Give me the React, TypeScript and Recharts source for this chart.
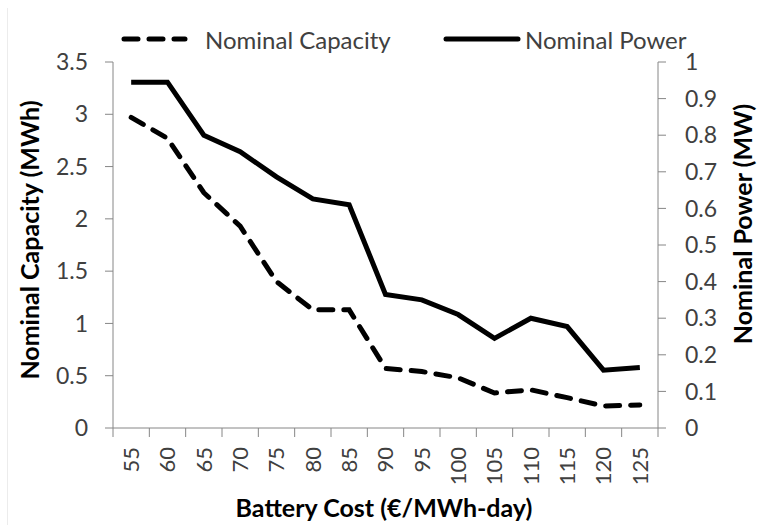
import React from 'react';
import { LineChart, Line, XAxis, YAxis } from 'recharts';

const costs = [55, 60, 65, 70, 75, 80, 85, 90, 95, 100, 105, 110, 115, 120, 125];
const capacityMWh = [2.97, 2.77, 2.25, 1.93, 1.4, 1.13, 1.13, 0.57, 0.54, 0.48, 0.335, 0.365, 0.29, 0.21, 0.22];
const powerMW = [0.945, 0.945, 0.8, 0.755, 0.686, 0.626, 0.61, 0.365, 0.35, 0.31, 0.245, 0.3, 0.277, 0.158, 0.165];
const capacityTicks = [0, 0.5, 1, 1.5, 2, 2.5, 3, 3.5];
const powerTicks = [0, 0.1, 0.2, 0.3, 0.4, 0.5, 0.6, 0.7, 0.8, 0.9, 1];

const data = costs.map((c, i) => ({ cost: c, capacity: capacityMWh[i], power: powerMW[i] }));

const W = 761;
const H = 525;
const LEFT = 113;
const RIGHT = 658;
const TOP = 62;
const BOTTOM = 428;
const band = (RIGHT - LEFT) / costs.length;

const FONT = 'Lato, "Open Sans", sans-serif';
const AXIS = '#868686';
const TXT = '#404040';
const DASH = '14 11';

const CostTick = (props: any) => {
  const { x, payload, index } = props;
  const top = BOTTOM + 19;
  return (
    <g>
      <line x1={x - band / 2} y1={BOTTOM} x2={x - band / 2} y2={BOTTOM + 9} stroke={AXIS} />
      {index === costs.length - 1 && (
        <line x1={x + band / 2} y1={BOTTOM} x2={x + band / 2} y2={BOTTOM + 9} stroke={AXIS} />
      )}
      <text
        x={x}
        y={top}
        dy="0.35em"
        textAnchor="end"
        transform={`rotate(-90, ${x}, ${top})`}
        fill={TXT}
        fontSize={22}
        fontFamily={FONT}
      >
        {payload.value}
      </text>
    </g>
  );
};

// axis titles sit where the original put them, not centred on the plot
const Title = ({ cx, cy, text, rotate }: { cx: number; cy: number; text: string; rotate?: boolean }) => (
  <text
    x={cx}
    y={cy}
    textAnchor="middle"
    dominantBaseline="central"
    transform={rotate ? `rotate(-90, ${cx}, ${cy})` : undefined}
    fontSize={25}
    fontWeight={700}
    fill="#000"
    fontFamily={FONT}
  >
    {text}
  </text>
);

function Overlay() {
  return (
    <svg width={W} height={H} style={{ position: 'absolute', left: 0, top: 0, pointerEvents: 'none' }}>
      <line x1={7.5} y1={8} x2={7.5} y2={H} stroke="#ececec" />
      <line x1={124} y1={39} x2={185} y2={39} stroke="#000" strokeWidth={5} strokeDasharray={DASH} strokeLinecap="round" />
      <text x={205} y={39} dominantBaseline="central" fontSize={24} fontFamily={FONT} fill={TXT}>
        Nominal Capacity
      </text>
      <line x1={446} y1={39} x2={518} y2={39} stroke="#000" strokeWidth={5} strokeLinecap="round" />
      <text x={525} y={39} dominantBaseline="central" fontSize={24} fontFamily={FONT} fill={TXT}>
        Nominal Power
      </text>
    </svg>
  );
}

export default function App() {
  return (
    <div style={{ position: 'absolute', left: 0, top: 0, width: W, height: H, background: '#fff' }}>
      <LineChart width={W} height={H} data={data} margin={{ top: TOP, right: 0, bottom: 0, left: 0 }}>
        <XAxis
          dataKey="cost"
          type="category"
          scale="band"
          height={H - BOTTOM}
          axisLine={{ stroke: AXIS }}
          tickLine={false}
          interval={0}
          tick={<CostTick />}
          label={<Title cx={384} cy={507} text="Battery Cost (€/MWh-day)" />}
        />
        <YAxis
          yAxisId="cap"
          orientation="left"
          width={LEFT}
          domain={[0, 3.5]}
          ticks={capacityTicks}
          interval={0}
          tickSize={8}
          tickMargin={17}
          axisLine={{ stroke: AXIS }}
          tickLine={{ stroke: AXIS }}
          tick={{ fill: TXT, fontSize: 23, fontFamily: FONT }}
          label={<Title cx={29} cy={240} text="Nominal Capacity (MWh)" rotate />}
        />
        <YAxis
          yAxisId="pow"
          orientation="right"
          width={W - RIGHT}
          domain={[0, 1]}
          ticks={powerTicks}
          interval={0}
          tickSize={8}
          tickMargin={19}
          axisLine={{ stroke: AXIS }}
          tickLine={{ stroke: AXIS }}
          tick={{ fill: TXT, fontSize: 23, fontFamily: FONT }}
          label={<Title cx={742} cy={224} text="Nominal Power (MW)" rotate />}
        />
        <Line
          yAxisId="cap"
          dataKey="capacity"
          stroke="#000"
          strokeWidth={5}
          strokeDasharray={DASH}
          strokeLinecap="round"
          dot={false}
          type="linear"
          isAnimationActive={false}
        />
        <Line
          yAxisId="pow"
          dataKey="power"
          stroke="#000"
          strokeWidth={5}
          dot={false}
          type="linear"
          isAnimationActive={false}
        />
      </LineChart>
      <Overlay />
    </div>
  );
}
